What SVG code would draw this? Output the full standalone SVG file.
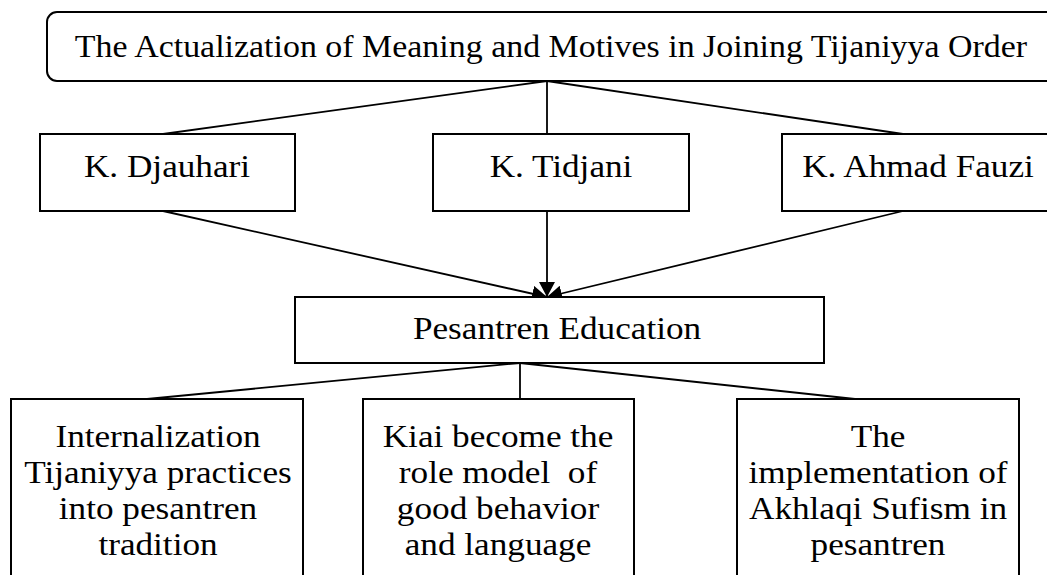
<svg xmlns="http://www.w3.org/2000/svg" width="1047" height="575" viewBox="0 0 1047 575">
<style>
.box{fill:#fff;stroke:#000;stroke-width:2}
.ln{fill:none;stroke:#000;stroke-width:1.8}
text{font-family:"Liberation Serif","Times New Roman",serif;font-size:32px;fill:#000;text-anchor:middle}
</style>
<defs>
<marker id="arr" markerUnits="userSpaceOnUse" markerWidth="16" markerHeight="16" refX="15" refY="8" orient="auto">
<path d="M0,0 L15,8 L0,16 Z" fill="#000"/>
</marker>
</defs>
<g id="connectors">
<line class="ln" x1="547" y1="81" x2="163" y2="134"/>
<line class="ln" x1="547" y1="81" x2="547" y2="134"/>
<line class="ln" x1="547" y1="81" x2="903" y2="134"/>
<line class="ln" x1="163" y1="211" x2="547" y2="297" marker-end="url(#arr)"/>
<line class="ln" x1="547" y1="211" x2="547" y2="297" marker-end="url(#arr)"/>
<line class="ln" x1="903" y1="211" x2="547" y2="297" marker-end="url(#arr)"/>
<line class="ln" x1="520" y1="363" x2="147" y2="399"/>
<line class="ln" x1="520" y1="363" x2="520" y2="399"/>
<line class="ln" x1="520" y1="363" x2="855" y2="399"/>
</g>
<g id="title">
<rect class="box" x="47" y="12" width="1020" height="69" rx="10" ry="10"/>
<text transform="translate(551,57) scale(1.06,1)">The Actualization of Meaning and Motives in Joining Tijaniyya Order</text>
</g>
<g id="djauhari">
<rect class="box" x="40" y="134" width="255" height="77"/>
<text transform="translate(167,177) scale(1.1,1)">K. Djauhari</text>
</g>
<g id="tidjani">
<rect class="box" x="433" y="134" width="256" height="77"/>
<text transform="translate(561,177) scale(1.1,1)">K. Tidjani</text>
</g>
<g id="fauzi">
<rect class="box" x="782" y="134" width="280" height="77"/>
<text transform="translate(918,177) scale(1.1,1)">K. Ahmad Fauzi</text>
</g>
<g id="pesantren">
<rect class="box" x="295" y="297" width="529" height="66"/>
<text transform="translate(557,339) scale(1.1,1)">Pesantren Education</text>
</g>
<g id="internalization">
<rect class="box" x="11" y="399" width="292" height="190"/>
<text transform="translate(158,447) scale(1.1,1)"><tspan x="0" y="0">Internalization</tspan><tspan x="0" y="36">Tijaniyya practices</tspan><tspan x="0" y="72">into pesantren</tspan><tspan x="0" y="108">tradition</tspan></text>
</g>
<g id="kiai">
<rect class="box" x="363" y="399" width="271" height="190"/>
<text transform="translate(498,447) scale(1.1,1)" xml:space="preserve"><tspan x="0" y="0">Kiai become the</tspan><tspan x="0" y="36">role model  of</tspan><tspan x="0" y="72">good behavior</tspan><tspan x="0" y="108">and language</tspan></text>
</g>
<g id="akhlaqi">
<rect class="box" x="737" y="399" width="282" height="190"/>
<text transform="translate(878,447) scale(1.1,1)"><tspan x="0" y="0">The</tspan><tspan x="0" y="36">implementation of</tspan><tspan x="0" y="72">Akhlaqi Sufism in</tspan><tspan x="0" y="108">pesantren</tspan></text>
</g>
</svg>
